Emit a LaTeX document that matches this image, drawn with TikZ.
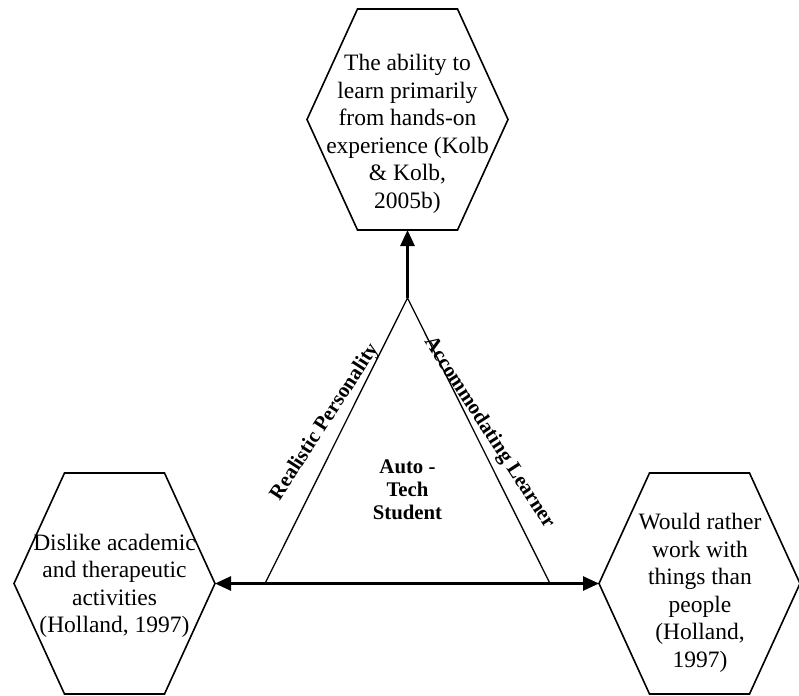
\documentclass[tikz,border=0pt]{standalone}
\usepackage{fontspec}
\setmainfont{Liberation Serif}
\usetikzlibrary{arrows.meta,calc}

\tikzset{
  hexline/.style={line width=1.6pt},
  hextext/.style={align=center,font=\fontsize{23.5}{27.5}\selectfont},
  sidetext/.style={font=\bfseries\fontsize{20.8}{23}\selectfont},
  link/.style={line width=2.6pt,-{Triangle[length=16pt,width=14pt]}},
  twolink/.style={line width=2.6pt,{Triangle[length=16pt,width=14pt]}-{Triangle[length=16pt,width=14pt]}},
}
% hexagon outline: #1 name, #2 centre
\newcommand{\hexshape}[2]{%
  \coordinate (#1) at (#2);
  \coordinate (#1-w) at ($(#1)+(-100.5,0)$);
  \coordinate (#1-e) at ($(#1)+(100.5,0)$);
  \coordinate (#1-s) at ($(#1)+(0,110.5)$);
  \draw[hexline] (#1-w) -- ++(50.5,-110.5) -- ++(100,0) -- (#1-e)
    -- ++(-50.5,110.5) -- ++(-100,0) -- cycle;
}

\begin{document}
\begin{tikzpicture}[x=1pt,y=-1pt]
    \useasboundingbox (0,0) rectangle (799,695);
    % Draw the three hexagons
    \hexshape{top}{407.5,119.5}
    \hexshape{left}{114.5,583.5}
    \hexshape{right}{699.5,583.5}
    % Texts in the hexagons
    \node[hextext] (toptext) at (407.5,134) {The ability to\\learn primarily\\from hands-on\\experience (Kolb\\\& Kolb,\\2005b)};
    \node[hextext] (lefttext) at (114.5,586) {Dislike academic\\and therapeutic\\activities\\(Holland, 1997)};
    \node[hextext] (righttext) at (700,593) {Would rather\\work with\\things than\\people\\(Holland,\\1997)};
    % Draw the triangle
    \coordinate (apex) at (407.5,298);
    \coordinate (bl) at (265,583.5);
    \coordinate (br) at (550,583.5);
    \draw[line width=1.3pt] (bl) -- (apex) -- (br) -- cycle;
    \node[sidetext,rotate=57] (real) at (325,422) {Realistic Personality};
    \node[sidetext,rotate=-57] (accom) at (489,433) {Accommodating Learner};
    \node[sidetext,align=center] (student) at (407.5,490) {Auto -\\Tech\\Student};
    % Draw the arrows
    \draw[link] (apex) -- (top-s);
    \draw[twolink] (left-e) -- (right-w);
\end{tikzpicture}
\end{document}
